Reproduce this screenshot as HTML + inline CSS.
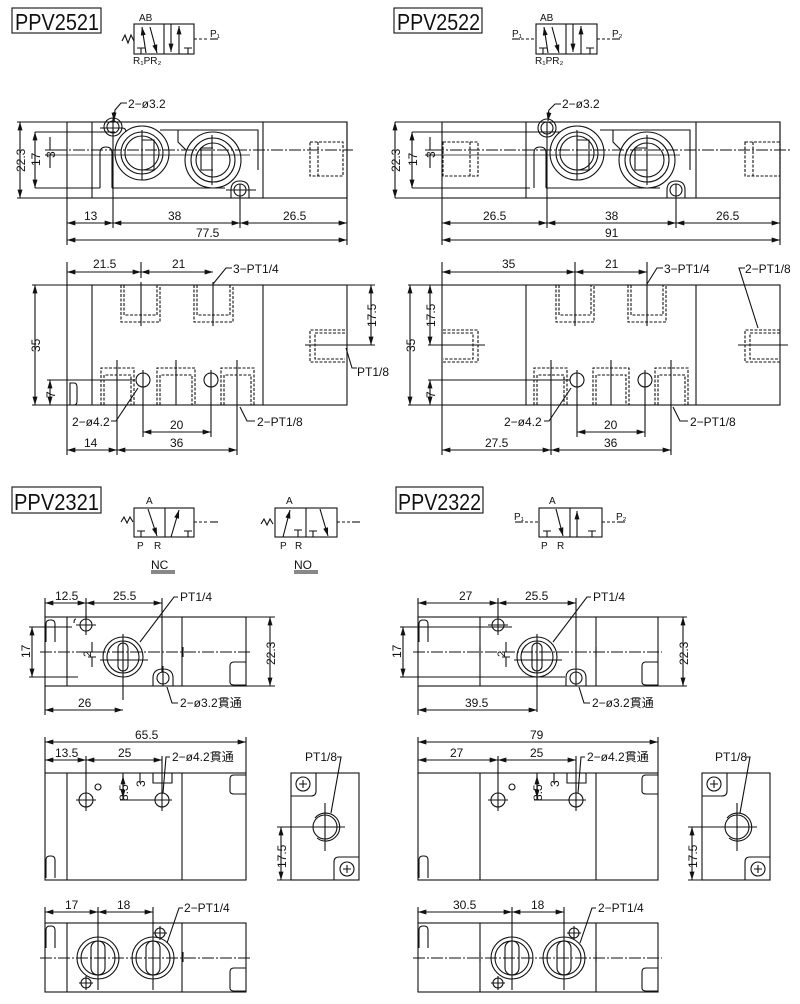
<!DOCTYPE html>
<html><head><meta charset="utf-8"><style>
html,body{margin:0;padding:0;background:#fff;}
svg{display:block;}
text{font-family:"Liberation Sans","Noto Sans CJK JP",sans-serif;fill:#111;}
.t{font-size:12px;}
.s{font-size:10px;}
</style></head><body>
<svg width="800" height="1004" viewBox="0 0 800 1004" xmlns="http://www.w3.org/2000/svg">
<defs>
<marker id="a" viewBox="0 0 10 6" refX="10" refY="3" markerWidth="9" markerHeight="5" orient="auto-start-reverse" markerUnits="userSpaceOnUse"><path d="M0,0 L10,3 L0,6 z" fill="#111"/></marker>
</defs>
<g fill="none" stroke="#111" stroke-width="1.1">

<!-- ===== Titles ===== -->
<rect x="12" y="8" width="89" height="25"/>
<rect x="394" y="8" width="88" height="25"/>
<rect x="12" y="487" width="89" height="26"/>
<rect x="396" y="487" width="87" height="26"/>

<!-- ===== Symbol 2521 ===== -->
<rect x="134" y="24" width="60" height="30"/>
<line x1="164" y1="24" x2="164" y2="54"/>
<line x1="146" y1="53" x2="142" y2="27" marker-end="url(#a)"/>
<line x1="150" y1="27" x2="157" y2="53" marker-end="url(#a)"/>
<line x1="171" y1="24" x2="171" y2="52" marker-end="url(#a)"/>
<line x1="179" y1="54" x2="179" y2="26" marker-end="url(#a)"/>
<path d="M137,48 h8 M141,48 v6 M184,48 h8 M188,48 v6"/>
<path d="M122,41 l3,-6 l3,8 l3,-8 l3,6"/>
<line x1="194" y1="39" x2="208" y2="39" stroke-dasharray="3,2"/>
<line x1="210" y1="39" x2="218" y2="39"/>

<!-- ===== Symbol 2522 ===== -->
<rect x="536" y="24" width="61" height="30"/>
<line x1="566" y1="24" x2="566" y2="54"/>
<line x1="548" y1="53" x2="544" y2="27" marker-end="url(#a)"/>
<line x1="552" y1="27" x2="559" y2="53" marker-end="url(#a)"/>
<line x1="573" y1="24" x2="573" y2="52" marker-end="url(#a)"/>
<line x1="581" y1="54" x2="581" y2="26" marker-end="url(#a)"/>
<path d="M539,48 h8 M543,48 v6 M586,48 h8 M590,48 v6"/>
<line x1="521" y1="39" x2="536" y2="39" stroke-dasharray="3,2"/>
<line x1="512" y1="39" x2="520" y2="39"/>
<line x1="597" y1="39" x2="610" y2="39" stroke-dasharray="3,2"/>
<line x1="612" y1="39" x2="620" y2="39"/>

<!-- ===== Symbol NC ===== -->
<rect x="134" y="508" width="60" height="29"/>
<line x1="165" y1="508" x2="165" y2="537"/>
<line x1="148" y1="509" x2="157" y2="536" marker-end="url(#a)"/>
<line x1="171" y1="537" x2="179" y2="510" marker-end="url(#a)"/>
<path d="M137,531 h8 M141,531 v6 M184,531 h8 M188,531 v6"/>
<path d="M121,522 l3,-5 l3,6 l3,-6 l3,5"/>
<line x1="194" y1="522" x2="208" y2="522" stroke-dasharray="3,2"/>
<line x1="210" y1="522" x2="218" y2="522"/>
<path d="M151,571 h24 M151,573 h24"/>
<!-- NO -->
<rect x="275" y="508" width="62" height="29"/>
<line x1="306" y1="508" x2="306" y2="537"/>
<line x1="283" y1="537" x2="290" y2="510" marker-end="url(#a)"/>
<line x1="320" y1="509" x2="328" y2="536" marker-end="url(#a)"/>
<path d="M294,530 h8 M298,530 v7 M309,531 h8 M313,531 v6"/>
<path d="M261,524 l3,-5 l3,6 l3,-6 l3,5"/>
<line x1="337" y1="522" x2="350" y2="522" stroke-dasharray="3,2"/>
<line x1="352" y1="522" x2="360" y2="522"/>
<path d="M294,571 h24 M294,573 h24"/>
<!-- 2322 -->
<rect x="539" y="508" width="63" height="29"/>
<line x1="570" y1="508" x2="570" y2="537"/>
<line x1="556" y1="509" x2="563" y2="536" marker-end="url(#a)"/>
<line x1="577" y1="537" x2="577" y2="511" marker-end="url(#a)"/>
<path d="M543,531 h8 M547,531 v6 M588,531 h8 M592,531 v6"/>
<line x1="525" y1="522" x2="539" y2="522" stroke-dasharray="3,2"/>
<line x1="515" y1="522" x2="523" y2="522"/>
<line x1="602" y1="522" x2="615" y2="522" stroke-dasharray="3,2"/>
<line x1="617" y1="522" x2="625" y2="522"/>

<!-- ===== PPV2521 top view ===== -->
<path d="M17,122 H347 V198 H17"/>
<rect x="67" y="122" width="280" height="76"/>
<line x1="92" y1="122" x2="92" y2="198"/>
<line x1="263" y1="122" x2="263" y2="198"/>
<path d="M35,132 H115 M35,188 H100"/>
<path d="M100,128 h22 q4,0 4,4 M100,188 v-35 q0,-6 6,-6 q6,0 6,6 v35 M112,188 H225 M226,190 h30 M160,130 H258 V170 M178,130 v12 l8,8"/>
<line x1="55" y1="150" x2="353" y2="150" stroke-dasharray="12,2,2,2"/>
<line x1="55" y1="155" x2="250" y2="155" stroke-width="0.8"/>
<circle cx="142" cy="153" r="27"/><circle cx="142" cy="153" r="21"/><circle cx="142" cy="153" r="17"/>
<circle cx="213" cy="160" r="28"/><circle cx="213" cy="160" r="22"/><circle cx="213" cy="160" r="17"/>
<path d="M142,130 V180 M212,135 V185 M142,140 h12 v30 h-12 M213,148 h-12 v22 h12"/>
<circle cx="113" cy="127" r="6"/><circle cx="113" cy="127" r="9"/>
<circle cx="240" cy="190" r="6"/><path d="M231,198 v-8 q0,-9 9,-9 q9,0 9,9 v8"/>
<path d="M310,142 h33 v34 h-33 z M318,142 v34" stroke-dasharray="3,1.5"/>
<line x1="113" y1="118" x2="113" y2="228"/><line x1="240" y1="184" x2="240" y2="228"/>
<line x1="67" y1="198" x2="67" y2="245"/><line x1="347" y1="198" x2="347" y2="245"/>
<line x1="67" y1="223" x2="113" y2="223" marker-start="url(#a)" marker-end="url(#a)"/>
<line x1="113" y1="223" x2="240" y2="223" marker-start="url(#a)" marker-end="url(#a)"/>
<line x1="240" y1="223" x2="347" y2="223" marker-start="url(#a)" marker-end="url(#a)"/>
<line x1="67" y1="240" x2="347" y2="240" marker-start="url(#a)" marker-end="url(#a)"/>
<line x1="20" y1="122" x2="20" y2="198" marker-start="url(#a)" marker-end="url(#a)"/>
<line x1="35" y1="132" x2="35" y2="188" marker-start="url(#a)" marker-end="url(#a)"/>
<path d="M50,137 V150 M50,155 V168 M45,150 h10 M45,155 h10"/>
<path d="M127,103 h-6 l-6,7 l-1,12" /><line x1="114" y1="112" x2="114" y2="121" marker-end="url(#a)"/>

<!-- ===== PPV2522 top view ===== -->
<path d="M395,122 H780 V198 H395"/>
<rect x="442" y="122" width="338" height="76"/>
<line x1="526" y1="122" x2="526" y2="198"/>
<line x1="696" y1="122" x2="696" y2="198"/>
<path d="M412,132 H560 M412,188 H530"/>
<path d="M534,188 v-35 q0,-6 6,-6 q6,0 6,6 v35 M546,188 H660 M600,130 H690 V170 M613,130 v12 l8,8"/>
<line x1="432" y1="150" x2="790" y2="150" stroke-dasharray="12,2,2,2"/>
<line x1="432" y1="155" x2="680" y2="155" stroke-width="0.8"/>
<circle cx="577" cy="153" r="27"/><circle cx="577" cy="153" r="21"/><circle cx="577" cy="153" r="17"/>
<circle cx="647" cy="160" r="28"/><circle cx="647" cy="160" r="22"/><circle cx="647" cy="160" r="17"/>
<path d="M577,130 V180 M647,135 V185 M577,140 h12 v30 h-12 M647,148 h-12 v22 h12"/>
<circle cx="547" cy="128" r="6"/><circle cx="547" cy="128" r="9"/>
<circle cx="676" cy="190" r="6"/><path d="M667,198 v-8 q0,-9 9,-9 q9,0 9,9 v8"/>
<path d="M443,142 h35 v34 h-35 z M470,142 v34" stroke-dasharray="3,1.5"/>
<path d="M745,142 h35 v34 h-35 z M753,142 v34" stroke-dasharray="3,1.5"/>
<line x1="547" y1="122" x2="547" y2="228"/><line x1="676" y1="184" x2="676" y2="228"/>
<line x1="442" y1="198" x2="442" y2="245"/><line x1="780" y1="198" x2="780" y2="245"/>
<line x1="442" y1="223" x2="547" y2="223" marker-start="url(#a)" marker-end="url(#a)"/>
<line x1="547" y1="223" x2="676" y2="223" marker-start="url(#a)" marker-end="url(#a)"/>
<line x1="676" y1="223" x2="780" y2="223" marker-start="url(#a)" marker-end="url(#a)"/>
<line x1="442" y1="240" x2="780" y2="240" marker-start="url(#a)" marker-end="url(#a)"/>
<line x1="395" y1="122" x2="395" y2="198" marker-start="url(#a)" marker-end="url(#a)"/>
<line x1="412" y1="132" x2="412" y2="188" marker-start="url(#a)" marker-end="url(#a)"/>
<path d="M430,137 V150 M430,155 V168 M425,150 h10 M425,155 h10"/>
<path d="M561,104 h-6 l-6,6 l-1,4"/><line x1="549" y1="112" x2="548" y2="121" marker-end="url(#a)"/>

<!-- ===== PPV2521 middle ===== -->
<rect x="67" y="285" width="280" height="120"/>
<line x1="92" y1="285" x2="92" y2="405"/><line x1="263" y1="285" x2="263" y2="405"/>
<path d="M32,285 H67 M32,405 H67 M347,285 H375 M305,345 H375 M47,380 H135"/>
<g stroke-dasharray="3,1.5">
<path d="M121,285 v37 h39 v-37 M124,285 v30 h33 v-30"/>
<path d="M194,285 v37 h39 v-37 M197,285 v30 h33 v-30"/>
<path d="M101,405 v-37 h33 v37 M104,405 v-30 h27 v30"/>
<path d="M157,405 v-37 h38 v37 M160,405 v-30 h32 v30"/>
<path d="M221,405 v-37 h33 v37 M224,405 v-30 h27 v30"/>
<path d="M345,330 h-35 v32 h35 M345,333 h-30 v26 h30"/>
</g>
<path d="M141,282 V326 M213,282 V326 M117,360 V455 M176,360 V405 M237,360 V455"/>
<path d="M70,405 v-22 h4 q3,0 3,4 v14 q0,4 -3,4" />
<circle cx="143" cy="380" r="7"/><circle cx="211" cy="380" r="7"/>
<path d="M143,370 V437 M211,370 V437"/>
<line x1="67" y1="272" x2="141" y2="272" marker-start="url(#a)" marker-end="url(#a)"/>
<line x1="141" y1="272" x2="213" y2="272" marker-start="url(#a)" marker-end="url(#a)"/>
<line x1="67" y1="262" x2="67" y2="285"/><line x1="141" y1="262" x2="141" y2="278"/>
<path d="M232,268 h-6 l-13,16"/>
<line x1="35" y1="285" x2="35" y2="405" marker-start="url(#a)" marker-end="url(#a)"/>
<line x1="50" y1="380" x2="50" y2="405" marker-start="url(#a)" marker-end="url(#a)"/>
<line x1="371" y1="285" x2="371" y2="345" marker-start="url(#a)" marker-end="url(#a)"/>
<path d="M346,348 l6,20 h5"/>
<line x1="143" y1="432" x2="211" y2="432" marker-start="url(#a)" marker-end="url(#a)"/>
<line x1="67" y1="405" x2="67" y2="455"/>
<line x1="67" y1="450" x2="117" y2="450" marker-start="url(#a)" marker-end="url(#a)"/>
<line x1="117" y1="450" x2="237" y2="450" marker-start="url(#a)" marker-end="url(#a)"/>
<path d="M111,421 h5 l22,-33"/>
<path d="M255,421 h-8 l-7,-14"/>

<!-- ===== PPV2522 middle ===== -->
<rect x="442" y="285" width="338" height="120"/>
<line x1="526" y1="285" x2="526" y2="405"/><line x1="696" y1="285" x2="696" y2="405"/>
<path d="M408,285 H442 M408,405 H442 M428,345 H485 M428,380 H570"/>
<g stroke-dasharray="3,1.5">
<path d="M556,285 v37 h38 v-37 M559,285 v30 h32 v-30"/>
<path d="M628,285 v37 h38 v-37 M631,285 v30 h32 v-30"/>
<path d="M534,405 v-37 h33 v37 M537,405 v-30 h27 v30"/>
<path d="M593,405 v-37 h36 v37 M596,405 v-30 h30 v30"/>
<path d="M655,405 v-37 h33 v37 M658,405 v-30 h27 v30"/>
<path d="M443,330 h35 v32 h-35 M443,333 h30 v26 h-30"/>
<path d="M780,330 h-35 v32 h35 M780,333 h-30 v26 h30"/>
</g>
<path d="M575,262 V326 M647,262 V326 M551,360 V455 M611,360 V405 M671,360 V455 M738,345 H788"/>
<circle cx="577" cy="380" r="7"/><circle cx="645" cy="380" r="7"/>
<path d="M577,370 V437 M645,370 V437"/>
<line x1="442" y1="272" x2="575" y2="272" marker-start="url(#a)" marker-end="url(#a)"/>
<line x1="575" y1="272" x2="647" y2="272" marker-start="url(#a)" marker-end="url(#a)"/>
<line x1="442" y1="262" x2="442" y2="285"/>
<path d="M663,268 h-6 l-10,16"/>
<path d="M745,268 h-6 l19,60"/>
<line x1="410" y1="285" x2="410" y2="405" marker-start="url(#a)" marker-end="url(#a)"/>
<line x1="430" y1="285" x2="430" y2="345" marker-start="url(#a)" marker-end="url(#a)"/>
<line x1="430" y1="380" x2="430" y2="405" marker-start="url(#a)" marker-end="url(#a)"/>
<line x1="577" y1="432" x2="645" y2="432" marker-start="url(#a)" marker-end="url(#a)"/>
<line x1="442" y1="405" x2="442" y2="455"/>
<line x1="442" y1="450" x2="551" y2="450" marker-start="url(#a)" marker-end="url(#a)"/>
<line x1="551" y1="450" x2="671" y2="450" marker-start="url(#a)" marker-end="url(#a)"/>
<path d="M544,421 h5 l22,-33"/>
<path d="M688,421 h-8 l-7,-14"/>

<!-- ===== PPV2321 top view ===== -->
<rect x="45" y="617" width="201" height="69"/>
<line x1="67" y1="617" x2="67" y2="686"/><line x1="182" y1="617" x2="182" y2="686"/>
<path d="M46,642 v-18 q0,-4 4,-4 h1 q4,0 4,4 v18 M246,662 h-12 q-4,0 -4,4 v16 q0,3 4,3 h12"/>
<line x1="40" y1="652" x2="250" y2="652" stroke-dasharray="12,2,2,2"/>
<path d="M29,627 H72 M29,677 H78 M246,617 H275 M246,686 H275 M183,647 v10"/>
<circle cx="123" cy="657" r="20"/><circle cx="123" cy="657" r="16"/>
<rect x="118" y="643" width="10" height="28" rx="5"/>
<path d="M123,634 V700 M100,660 H148"/>
<circle cx="86" cy="625" r="6"/><path d="M76,625 h20 M86,615 v20 M76,619 q-2,0 -2,4"/>
<circle cx="163" cy="678" r="6"/><path d="M153,686 v-8 q0,-9 10,-9 q10,0 10,9 v8 M163,666 V686"/>
<path d="M86,598 V620 M162,598 V672"/>
<line x1="45" y1="598" x2="45" y2="617"/>
<line x1="45" y1="603" x2="86" y2="603" marker-start="url(#a)" marker-end="url(#a)"/>
<line x1="86" y1="603" x2="162" y2="603" marker-start="url(#a)" marker-end="url(#a)"/>
<path d="M178,597 h-4 l-34,45"/>
<line x1="32" y1="627" x2="32" y2="677" marker-start="url(#a)" marker-end="url(#a)"/>
<line x1="270" y1="617" x2="270" y2="686" marker-start="url(#a)" marker-end="url(#a)"/>
<path d="M92,642 v10 M92,657 v10 M88,652 h8 M88,657 h8"/>
<line x1="45" y1="686" x2="45" y2="715"/>
<line x1="45" y1="710" x2="123" y2="710" marker-start="url(#a)" marker-end="url(#a)"/>
<path d="M178,703 h-6 l-5,-16"/>

<!-- ===== PPV2322 top view ===== -->
<rect x="418" y="617" width="240" height="69"/>
<line x1="480" y1="617" x2="480" y2="686"/><line x1="596" y1="617" x2="596" y2="686"/>
<path d="M419,642 v-18 q0,-4 4,-4 h1 q4,0 4,4 v18 M658,662 h-12 q-4,0 -4,4 v16 q0,3 4,3 h12"/>
<line x1="413" y1="652" x2="662" y2="652" stroke-dasharray="12,2,2,2"/>
<path d="M400,627 H512 M400,677 H565 M658,617 H687 M658,686 H687 M480,647 v10 M596,647 v10"/>
<circle cx="537" cy="657" r="20"/><circle cx="537" cy="657" r="16"/>
<rect x="532" y="643" width="10" height="28" rx="5"/>
<path d="M537,634 V712 M514,660 H562"/>
<circle cx="498" cy="625" r="6"/><path d="M488,625 h20 M498,598 v37"/>
<circle cx="576" cy="678" r="6"/><path d="M566,686 v-8 q0,-9 10,-9 q10,0 10,9 v8 M576,598 V686"/>
<line x1="418" y1="598" x2="418" y2="617"/>
<line x1="418" y1="603" x2="498" y2="603" marker-start="url(#a)" marker-end="url(#a)"/>
<line x1="498" y1="603" x2="576" y2="603" marker-start="url(#a)" marker-end="url(#a)"/>
<path d="M591,597 h-4 l-34,45"/>
<line x1="403" y1="627" x2="403" y2="677" marker-start="url(#a)" marker-end="url(#a)"/>
<line x1="683" y1="617" x2="683" y2="686" marker-start="url(#a)" marker-end="url(#a)"/>
<path d="M506,642 v10 M506,657 v10 M502,652 h8 M502,657 h8"/>
<line x1="418" y1="686" x2="418" y2="715"/>
<line x1="418" y1="710" x2="537" y2="710" marker-start="url(#a)" marker-end="url(#a)"/>
<path d="M590,703 h-6 l-5,-16"/>

<!-- ===== PPV2321 middle ===== -->
<rect x="45" y="773" width="201" height="107"/>
<line x1="67" y1="773" x2="67" y2="880"/><line x1="182" y1="773" x2="182" y2="880"/>
<path d="M246,775 h-12 q-4,0 -4,4 v12 q0,3 4,3 h12 M46,878 v-18 q0,-4 4,-4 h1 q4,0 4,4 v18"/>
<line x1="45" y1="737" x2="45" y2="773"/><line x1="246" y1="737" x2="246" y2="773"/>
<line x1="45" y1="742" x2="246" y2="742" marker-start="url(#a)" marker-end="url(#a)"/>
<line x1="45" y1="760" x2="86" y2="760" marker-start="url(#a)" marker-end="url(#a)"/>
<line x1="86" y1="760" x2="162" y2="760" marker-start="url(#a)" marker-end="url(#a)"/>
<circle cx="86" cy="800" r="7"/><path d="M76,800 h20 M86,756 v55"/>
<circle cx="162" cy="800" r="7"/><path d="M152,800 h20 M162,756 v55"/>
<circle cx="98" cy="787" r="3"/>
<path d="M153,773 v10 h19 v-10"/>
<path d="M123,773 V800 M120,800 h32 M120,773 h15 M140,773 v10"/>
<line x1="123" y1="776" x2="123" y2="798" marker-start="url(#a)" marker-end="url(#a)"/>
<path d="M170,757 h-4 l-3,36"/>
<!-- end view -->
<rect x="291" y="773" width="68" height="107"/>
<path d="M291,796 h20 q5,0 5,-5 v-18 M359,857 h-20 q-5,0 -5,5 v18"/>
<circle cx="303" cy="784" r="7"/><path d="M299,784 h8 M303,780 v8"/>
<circle cx="347" cy="869" r="7"/><path d="M343,869 h8 M347,865 v8"/>
<circle cx="325" cy="827" r="12"/><path d="M315,818 a14,14 0 1 1 2,20"/>
<path d="M277,827 H345 M325,803 V851 M277,880 H291"/>
<line x1="281" y1="827" x2="281" y2="880" marker-start="url(#a)" marker-end="url(#a)"/>
<path d="M337,757 h4 l-10,56"/>

<!-- ===== PPV2322 middle ===== -->
<rect x="418" y="773" width="240" height="107"/>
<line x1="480" y1="773" x2="480" y2="880"/><line x1="596" y1="773" x2="596" y2="880"/>
<path d="M658,775 h-12 q-4,0 -4,4 v12 q0,3 4,3 h12 M419,878 v-18 q0,-4 4,-4 h1 q4,0 4,4 v18"/>
<line x1="418" y1="737" x2="418" y2="773"/><line x1="658" y1="737" x2="658" y2="773"/>
<line x1="418" y1="742" x2="658" y2="742" marker-start="url(#a)" marker-end="url(#a)"/>
<line x1="418" y1="760" x2="498" y2="760" marker-start="url(#a)" marker-end="url(#a)"/>
<line x1="498" y1="760" x2="576" y2="760" marker-start="url(#a)" marker-end="url(#a)"/>
<circle cx="498" cy="800" r="7"/><path d="M488,800 h20 M498,756 v55"/>
<circle cx="576" cy="800" r="7"/><path d="M566,800 h20 M576,756 v55"/>
<circle cx="512" cy="787" r="3"/>
<path d="M567,773 v10 h19 v-10"/>
<path d="M537,773 V800 M534,800 h32 M534,773 h15 M554,773 v10"/>
<line x1="537" y1="776" x2="537" y2="798" marker-start="url(#a)" marker-end="url(#a)"/>
<path d="M585,757 h-4 l-3,36"/>
<rect x="702" y="773" width="68" height="107"/>
<path d="M702,796 h20 q5,0 5,-5 v-18 M770,857 h-20 q-5,0 -5,5 v18"/>
<circle cx="714" cy="784" r="7"/><path d="M710,784 h8 M714,780 v8"/>
<circle cx="758" cy="869" r="7"/><path d="M754,869 h8 M758,865 v8"/>
<circle cx="737" cy="827" r="12"/><path d="M727,818 a14,14 0 1 1 2,20"/>
<path d="M688,827 H757 M737,803 V851 M688,880 H702"/>
<line x1="692" y1="827" x2="692" y2="880" marker-start="url(#a)" marker-end="url(#a)"/>
<path d="M746,757 h4 l-10,56"/>

<!-- ===== PPV2321 bottom ===== -->
<rect x="45" y="923" width="201" height="69"/>
<line x1="67" y1="923" x2="67" y2="992"/><line x1="182" y1="923" x2="182" y2="992"/>
<path d="M46,948 v-18 q0,-4 4,-4 h1 q4,0 4,4 v18 M246,968 h-12 q-4,0 -4,4 v16 q0,3 4,3 h12"/>
<line x1="40" y1="958" x2="250" y2="958" stroke-dasharray="12,2,2,2"/>
<path d="M183,952 v10"/>
<circle cx="98" cy="958" r="21"/><circle cx="98" cy="958" r="17"/>
<rect x="91" y="941" width="14" height="34" rx="7"/>
<circle cx="153" cy="958" r="21"/><circle cx="153" cy="958" r="17"/>
<rect x="146" y="941" width="14" height="34" rx="7"/>
<path d="M98,907 V990 M153,907 V990"/>
<circle cx="160" cy="933" r="5"/><path d="M153,933 h14 M160,926 v14"/>
<circle cx="86" cy="983" r="5"/><path d="M79,983 h14 M86,976 v14"/>
<line x1="45" y1="907" x2="45" y2="923"/>
<line x1="45" y1="912" x2="98" y2="912" marker-start="url(#a)" marker-end="url(#a)"/>
<line x1="98" y1="912" x2="153" y2="912" marker-start="url(#a)" marker-end="url(#a)"/>
<path d="M183,908 h-4 l-12,35"/>

<!-- ===== PPV2322 bottom ===== -->
<rect x="418" y="923" width="240" height="69"/>
<line x1="480" y1="923" x2="480" y2="992"/><line x1="596" y1="923" x2="596" y2="992"/>
<path d="M419,948 v-18 q0,-4 4,-4 h1 q4,0 4,4 v18 M658,968 h-12 q-4,0 -4,4 v16 q0,3 4,3 h12"/>
<line x1="413" y1="958" x2="662" y2="958" stroke-dasharray="12,2,2,2"/>
<path d="M480,952 v10 M596,952 v10"/>
<circle cx="512" cy="958" r="21"/><circle cx="512" cy="958" r="17"/>
<rect x="505" y="941" width="14" height="34" rx="7"/>
<circle cx="564" cy="958" r="21"/><circle cx="564" cy="958" r="17"/>
<rect x="557" y="941" width="14" height="34" rx="7"/>
<path d="M512,907 V990 M564,907 V990"/>
<circle cx="574" cy="933" r="5"/><path d="M567,933 h14 M574,926 v14"/>
<circle cx="498" cy="983" r="5"/><path d="M491,983 h14 M498,976 v14"/>
<line x1="418" y1="907" x2="418" y2="923"/>
<line x1="418" y1="912" x2="512" y2="912" marker-start="url(#a)" marker-end="url(#a)"/>
<line x1="512" y1="912" x2="564" y2="912" marker-start="url(#a)" marker-end="url(#a)"/>
<path d="M596,908 h-4 l-12,35"/>
</g>

<!-- ===== Text ===== -->
<g>
<text x="15" y="30" style="font-size:23px" textLength="84" lengthAdjust="spacingAndGlyphs">PPV2521</text>
<text x="397" y="30" style="font-size:23px" textLength="83" lengthAdjust="spacingAndGlyphs">PPV2522</text>
<text x="14" y="510" style="font-size:23px" textLength="85" lengthAdjust="spacingAndGlyphs">PPV2321</text>
<text x="398" y="510" style="font-size:23px" textLength="83" lengthAdjust="spacingAndGlyphs">PPV2322</text>

<text class="s" x="139" y="21">AB</text>
<text class="s" x="133" y="64">R₁PR₂</text>
<text class="s" x="210" y="37">P₁</text>
<text class="s" x="540" y="21">AB</text>
<text class="s" x="535" y="64">R₁PR₂</text>
<text class="s" x="512" y="37">P₁</text>
<text class="s" x="612" y="37">P₂</text>
<text class="s" x="146" y="504">A</text>
<text class="s" x="137" y="549">P</text>
<text class="s" x="154" y="549">R</text>
<text class="t" x="151" y="569">NC</text>
<text class="s" x="286" y="504">A</text>
<text class="s" x="280" y="549">P</text>
<text class="s" x="295" y="549">R</text>
<text class="t" x="294" y="569">NO</text>
<text class="s" x="549" y="504">A</text>
<text class="s" x="541" y="549">P</text>
<text class="s" x="557" y="549">R</text>
<text class="s" x="514" y="520">P₁</text>
<text class="s" x="616" y="520">P₂</text>

<text class="t" x="128" y="108">2−ø3.2</text>
<text class="t" x="84" y="220">13</text>
<text class="t" x="168" y="220">38</text>
<text class="t" x="283" y="220">26.5</text>
<text class="t" x="196" y="237">77.5</text>
<text class="t" transform="translate(25,172) rotate(-90)">22.3</text>
<text class="t" transform="translate(40,166) rotate(-90)">17</text>
<text class="t" transform="translate(55,158) rotate(-90)">3</text>

<text class="t" x="562" y="108">2−ø3.2</text>
<text class="t" x="483" y="220">26.5</text>
<text class="t" x="605" y="220">38</text>
<text class="t" x="716" y="220">26.5</text>
<text class="t" x="605" y="237">91</text>
<text class="t" transform="translate(400,172) rotate(-90)">22.3</text>
<text class="t" transform="translate(417,166) rotate(-90)">17</text>
<text class="t" transform="translate(435,158) rotate(-90)">3</text>

<text class="t" x="93" y="268">21.5</text>
<text class="t" x="172" y="268">21</text>
<text class="t" x="233" y="273">3−PT1/4</text>
<text class="t" transform="translate(40,352) rotate(-90)">35</text>
<text class="t" transform="translate(55,398) rotate(-90)">7</text>
<text class="t" transform="translate(376,327) rotate(-90)">17.5</text>
<text class="t" x="357" y="376">PT1/8</text>
<text class="t" x="72" y="426">2−ø4.2</text>
<text class="t" x="170" y="429">20</text>
<text class="t" x="84" y="447">14</text>
<text class="t" x="170" y="447">36</text>
<text class="t" x="257" y="426">2−PT1/8</text>

<text class="t" x="502" y="268">35</text>
<text class="t" x="605" y="268">21</text>
<text class="t" x="664" y="273">3−PT1/4</text>
<text class="t" x="745" y="273">2−PT1/8</text>
<text class="t" transform="translate(415,352) rotate(-90)">35</text>
<text class="t" transform="translate(435,327) rotate(-90)">17.5</text>
<text class="t" transform="translate(435,398) rotate(-90)">7</text>
<text class="t" x="504" y="426">2−ø4.2</text>
<text class="t" x="604" y="429">20</text>
<text class="t" x="485" y="447">27.5</text>
<text class="t" x="604" y="447">36</text>
<text class="t" x="690" y="426">2−PT1/8</text>

<text class="t" x="55" y="600">12.5</text>
<text class="t" x="113" y="600">25.5</text>
<text class="t" x="180" y="601">PT1/4</text>
<text class="t" transform="translate(30,658) rotate(-90)">17</text>
<text class="t" transform="translate(275,665) rotate(-90)">22.3</text>
<text class="t" transform="translate(91,657) rotate(-90)" style="font-size:11px">2</text>
<text class="t" x="78" y="707">26</text>
<text class="t" x="180" y="707">2−ø3.2貫通</text>

<text class="t" x="459" y="600">27</text>
<text class="t" x="525" y="600">25.5</text>
<text class="t" x="593" y="601">PT1/4</text>
<text class="t" transform="translate(401,658) rotate(-90)">17</text>
<text class="t" transform="translate(688,665) rotate(-90)">22.3</text>
<text class="t" transform="translate(505,657) rotate(-90)" style="font-size:11px">2</text>
<text class="t" x="465" y="707">39.5</text>
<text class="t" x="592" y="707">2−ø3.2貫通</text>

<text class="t" x="135" y="739">65.5</text>
<text class="t" x="55" y="757">13.5</text>
<text class="t" x="118" y="757">25</text>
<text class="t" x="172" y="761">2−ø4.2貫通</text>
<text class="t" transform="translate(128,801) rotate(-90)">8.5</text>
<text class="t" transform="translate(145,787) rotate(-90)">3</text>
<text class="t" x="305" y="761">PT1/8</text>
<text class="t" transform="translate(286,868) rotate(-90)">17.5</text>

<text class="t" x="530" y="739">79</text>
<text class="t" x="450" y="757">27</text>
<text class="t" x="530" y="757">25</text>
<text class="t" x="587" y="761">2−ø4.2貫通</text>
<text class="t" transform="translate(542,801) rotate(-90)">8.5</text>
<text class="t" transform="translate(559,787) rotate(-90)">3</text>
<text class="t" x="715" y="761">PT1/8</text>
<text class="t" transform="translate(697,868) rotate(-90)">17.5</text>

<text class="t" x="65" y="909">17</text>
<text class="t" x="117" y="909">18</text>
<text class="t" x="184" y="912">2−PT1/4</text>
<text class="t" x="453" y="909">30.5</text>
<text class="t" x="531" y="909">18</text>
<text class="t" x="598" y="912">2−PT1/4</text>
</g>
</svg>
</body></html>
